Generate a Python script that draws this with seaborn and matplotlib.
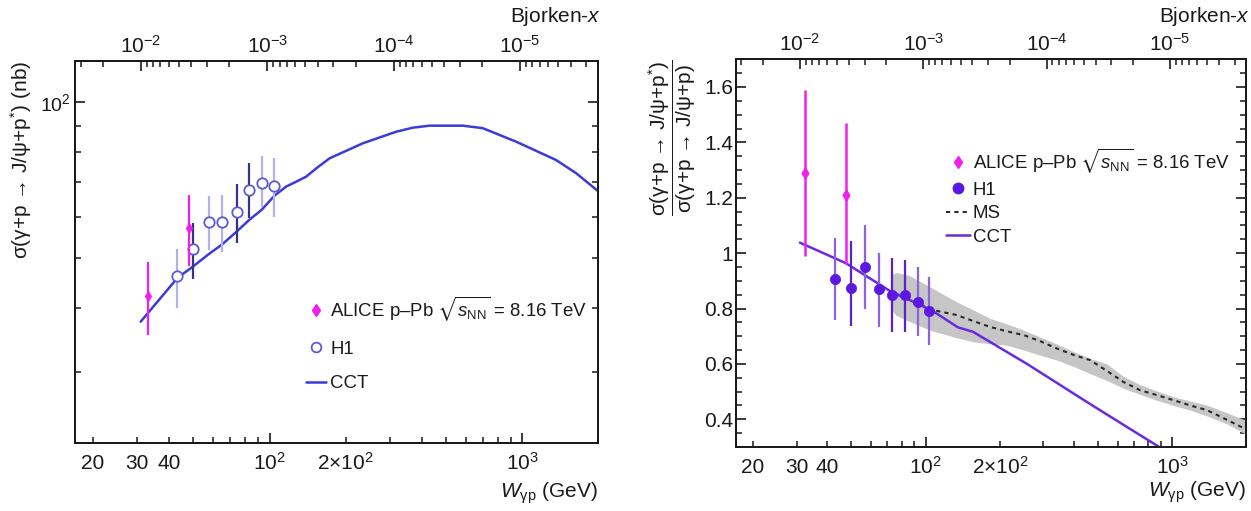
import numpy as np
import pandas as pd
import matplotlib
matplotlib.use("Agg")
import matplotlib.pyplot as plt
import seaborn as sns
from matplotlib.ticker import (FixedLocator, FuncFormatter, NullFormatter,
                               MultipleLocator, LogFormatterSciNotation)
from matplotlib.lines import Line2D

M2_JPSI = 9.6  # GeV^2, Bjorken-x = M^2 / W^2

# ---------------- left panel data ----------------
alice_w = [32.9, 47.9]
alice_xs = [42.2, 57.2]
alice_xs_lo = [35.4, 48.3]
alice_xs_hi = [49.0, 66.2]

h1_w = [43.2, 49.8, 57.4, 65.0, 74.1, 83.1, 93.0, 104.4]
h1_xs = [46.0, 52.1, 58.7, 58.7, 61.4, 67.7, 69.9, 69.0]
h1_xs_lo = [39.9, 45.5, 51.8, 51.2, 53.5, 59.6, 62.8, 60.1]
h1_xs_hi = [51.9, 58.5, 66.0, 66.2, 69.4, 76.4, 78.7, 77.9]
h1_group = ["a", "b", "a", "a", "b", "b", "a", "a"]

cct_w = [30.9, 43.2, 49.8, 57.4, 65.0, 74.1, 83.1, 93.0, 104.4, 116.4, 127.5,
         139.6, 153.0, 172.7, 233.8, 316.8, 368.6, 429.0, 580.7, 696.7, 944.0,
         1359.0, 1631.0, 1984.0]
cct_xs = [37.6, 45.7, 48.1, 50.8, 53.1, 56.2, 59.2, 61.9, 65.9, 68.7, 70.2,
          71.8, 74.5, 77.9, 83.3, 87.7, 89.3, 90.1, 90.1, 89.1, 83.9,
          77.3, 72.9, 67.4]

# ---------------- right panel data ----------------
r_alice_w = [32.6, 47.6]
r_alice = [1.29, 1.21]
r_alice_lo = [0.99, 0.96]
r_alice_hi = [1.59, 1.47]

r_h1_w = [43.1, 49.9, 57.0, 64.8, 73.4, 82.7, 93.0, 103.1]
r_h1 = [0.906, 0.874, 0.949, 0.869, 0.849, 0.848, 0.825, 0.792]
r_h1_lo = [0.758, 0.737, 0.799, 0.732, 0.716, 0.716, 0.700, 0.668]
r_h1_hi = [1.054, 1.045, 1.102, 1.002, 0.982, 0.975, 0.951, 0.915]
r_h1_group = ["a", "b", "a", "a", "b", "b", "a", "a"]

r_cct_w = [30.95, 47.6, 71.4, 103.8, 110.5, 135.3, 155.7, 256.7, 450.0, 654.5, 908.0]
r_cct = [1.038, 0.9635, 0.8644, 0.797, 0.783, 0.732, 0.716, 0.601, 0.463, 0.3725, 0.294]

ms_w = [72, 76, 85, 104, 133, 156, 182, 213, 250, 290, 340, 400, 464, 543,
        634, 741, 870, 1012, 1184, 1384, 1650, 2000]
ms_mid = [0.86, 0.85, 0.84, 0.797, 0.777, 0.755, 0.734, 0.718, 0.704, 0.683,
          0.656, 0.632, 0.614, 0.575, 0.535, 0.505, 0.487, 0.469, 0.450, 0.433,
          0.400, 0.363]
ms_hi = [0.92, 0.93, 0.921, 0.879, 0.825, 0.795, 0.765, 0.745, 0.722, 0.698,
         0.672, 0.644, 0.620, 0.600, 0.555, 0.525, 0.502, 0.481, 0.466, 0.451,
         0.425, 0.395]
ms_lo = [0.80, 0.775, 0.755, 0.722, 0.695, 0.680, 0.673, 0.668, 0.650, 0.632,
         0.614, 0.590, 0.565, 0.540, 0.512, 0.490, 0.468, 0.450, 0.433, 0.412,
         0.385, 0.345]

# ---------------- styling ----------------
sns.set_theme(style="ticks")
INK = "#1a1a1a"
plt.rcParams.update({
    "font.family": ["Liberation Sans", "DejaVu Sans"],
    "mathtext.fontset": "custom",
    "mathtext.rm": "Liberation Sans",
    "mathtext.it": "Liberation Sans:italic",
    "mathtext.bf": "Liberation Sans:bold",
    "mathtext.sf": "Liberation Sans",
    "mathtext.fallback": "stixsans",
    "axes.linewidth": 1.4,
    "axes.edgecolor": INK,
    "axes.labelcolor": INK,
    "text.color": INK,
    "xtick.color": INK,
    "ytick.color": INK,
})

MAGENTA = "#f01ff0"
BLUE = "#3b3bd9"
H1_EDGE = "#5a5ad2"
H1_BAR = {"a": "#b0b2e8", "b": "#34348c"}
PURPLE = "#6a2be0"
H1R = "#5b18e0"
H1R_BAR = {"a": "#8b62e2", "b": "#5a22c8"}

TICK_FS = 15
W_, H_ = 1251, 511
XLIM = (17.0, 1990.0)

fig = plt.figure(figsize=(W_ / 100, H_ / 100), dpi=100)
ax1 = fig.add_axes([75 / W_, 1 - 443 / H_, 523 / W_, 382 / H_])
ax2 = fig.add_axes([735.7 / W_, 1 - 447 / H_, 510.3 / W_, 387.7 / H_])


def setup_x(ax):
    ax.set_xscale("log")
    ax.set_xlim(*XLIM)
    top = ax.twiny()
    top.set_xscale("log")
    top.set_xlim(M2_JPSI / XLIM[0] ** 2, M2_JPSI / XLIM[1] ** 2)
    top.xaxis.set_major_locator(FixedLocator([1e-2, 1e-3, 1e-4, 1e-5]))
    top.xaxis.set_major_formatter(LogFormatterSciNotation())
    top.xaxis.set_minor_locator(FixedLocator(
        [m * 10.0 ** e for e in range(-7, -1) for m in range(2, 10)]))
    top.xaxis.set_minor_formatter(NullFormatter())
    top.tick_params(axis="x", which="both", direction="in", top=True, bottom=False,
                    labeltop=True, labelbottom=False, labelsize=TICK_FS, pad=3)
    top.tick_params(axis="x", which="major", length=7.5, width=1.2)
    top.tick_params(axis="x", which="minor", length=4, width=1.1)

    ax.xaxis.set_major_locator(FixedLocator([100, 1000]))
    ax.xaxis.set_major_formatter(FuncFormatter(
        lambda v, p: {100: "$10^{2}$", 1000: "$10^{3}$"}.get(int(round(v)), "")))
    minors = [m * 10 ** e for e in (1, 2, 3) for m in range(2, 10)
              if XLIM[0] <= m * 10 ** e <= XLIM[1]]
    ax.xaxis.set_minor_locator(FixedLocator(minors))
    ax.xaxis.set_minor_formatter(FuncFormatter(
        lambda v, p: {20: "20", 30: "30", 40: "40", 200: "2×$10^{2}$"}.get(int(round(v)), "")))
    ax.tick_params(axis="x", which="both", direction="in", bottom=True, top=False,
                   labelsize=TICK_FS, pad=19)
    ax.tick_params(axis="x", which="major", length=7.5, width=1.2)
    ax.tick_params(axis="x", which="minor", length=4, width=1.1)
    for lab in ax.xaxis.get_majorticklabels() + ax.xaxis.get_minorticklabels():
        lab.set_verticalalignment("baseline")
    return top


# ---------------- left panel ----------------
setup_x(ax1)
ax1.set_yscale("log")
ax1.set_ylim(21.9, 120.2)
ax1.yaxis.set_major_locator(FixedLocator([100]))
ax1.yaxis.set_major_formatter(FuncFormatter(lambda v, p: "$10^{2}$"))
ax1.yaxis.set_minor_locator(FixedLocator([30, 40, 50, 60, 70, 80, 90]))
ax1.yaxis.set_minor_formatter(NullFormatter())
ax1.tick_params(axis="y", which="both", direction="in", left=True, right=True,
                labelsize=14, pad=3)
ax1.tick_params(axis="y", which="major", length=7.5, width=1.2)
ax1.tick_params(axis="y", which="minor", length=4, width=1.1)

df_cct = pd.DataFrame({"W": cct_w, "xs": cct_xs})
sns.lineplot(data=df_cct, x="W", y="xs", ax=ax1, color=BLUE, lw=1.8,
             estimator=None, sort=False, legend=False, zorder=2)

ax1.vlines(h1_w, h1_xs_lo, h1_xs_hi, colors=[H1_BAR[g] for g in h1_group],
           lw=1.6, zorder=3)
df_h1 = pd.DataFrame({"W": h1_w, "xs": h1_xs})
sns.scatterplot(data=df_h1, x="W", y="xs", ax=ax1, marker="o", s=56,
                facecolor="white", edgecolor=H1_EDGE, linewidth=1.3, zorder=4,
                legend=False)

ax1.vlines(alice_w, alice_xs_lo, alice_xs_hi, colors=MAGENTA, lw=1.6, zorder=5)
df_al = pd.DataFrame({"W": alice_w, "xs": alice_xs})
sns.scatterplot(data=df_al, x="W", y="xs", ax=ax1, marker="d", s=30,
                color=MAGENTA, edgecolor=MAGENTA, linewidth=0.5, zorder=6,
                legend=False)

ax1.set_xlabel(r"$W_{\mathrm{γp}}$ (GeV)", fontsize=15, loc="right")
ax1.xaxis.set_label_coords(1.0, -0.097)
ax1.set_ylabel("σ(γ+p → J/ψ+p$^{*}$) (nb)", fontsize=15, loc="top")
ax1.yaxis.set_label_coords(-0.078, 1.0)

alice_label = r"ALICE p–Pb $\sqrt{s_{\mathrm{NN}}}$ = 8.16 TeV"
h_left = [
    Line2D([], [], ls="none", marker="d", ms=6, color=MAGENTA, mec=MAGENTA),
    Line2D([], [], ls="none", marker="o", ms=7, mfc="white", mec=H1_EDGE, mew=1.3),
    Line2D([], [], color=BLUE, lw=1.8),
]
ax1.legend(h_left, [alice_label, "H1", "CCT"], loc="upper left",
           bbox_to_anchor=(306 / W_, 1 - 294 / H_), bbox_transform=fig.transFigure,
           frameon=False, fontsize=13.4, borderpad=0, borderaxespad=0,
           handlelength=1.1, handletextpad=0.2, labelspacing=0.95)

# ---------------- right panel ----------------
setup_x(ax2)
ax2.set_ylim(0.3, 1.7)
ax2.yaxis.set_major_locator(FixedLocator([0.4, 0.6, 0.8, 1.0, 1.2, 1.4, 1.6]))
ax2.yaxis.set_major_formatter(FuncFormatter(lambda v, p: f"{v:g}"))
ax2.yaxis.set_minor_locator(MultipleLocator(0.05))
ax2.tick_params(axis="y", which="both", direction="in", left=True, right=True,
                labelsize=TICK_FS, pad=2)
ax2.tick_params(axis="y", which="major", length=7.5, width=1.2)
ax2.tick_params(axis="y", which="minor", length=4, width=1.1)

ax2.fill_between(ms_w, ms_lo, ms_hi, color="#c6c6c6", lw=0, zorder=1)
df_ms = pd.DataFrame({"W": ms_w, "r": ms_mid})
sns.lineplot(data=df_ms, x="W", y="r", ax=ax2, color="#2a2a2a", lw=1.5,
             linestyle=(0, (2, 2)), estimator=None, sort=False, legend=False, zorder=2)
df_rcct = pd.DataFrame({"W": r_cct_w, "r": r_cct})
sns.lineplot(data=df_rcct, x="W", y="r", ax=ax2, color=PURPLE, lw=1.8,
             estimator=None, sort=False, legend=False, zorder=3)

ax2.vlines(r_h1_w, r_h1_lo, r_h1_hi, colors=[H1R_BAR[g] for g in r_h1_group],
           lw=1.6, zorder=4)
df_rh1 = pd.DataFrame({"W": r_h1_w, "r": r_h1})
sns.scatterplot(data=df_rh1, x="W", y="r", ax=ax2, marker="o", s=55,
                color=H1R, edgecolor=H1R, linewidth=0.5, zorder=5, legend=False)

ax2.vlines(r_alice_w, r_alice_lo, r_alice_hi, colors=MAGENTA, lw=1.8, zorder=6)
df_ral = pd.DataFrame({"W": r_alice_w, "r": r_alice})
sns.scatterplot(data=df_ral, x="W", y="r", ax=ax2, marker="d", s=40,
                color=MAGENTA, edgecolor=MAGENTA, linewidth=0.5, zorder=7,
                legend=False)

ax2.set_xlabel(r"$W_{\mathrm{γp}}$ (GeV)", fontsize=15, loc="right")
ax2.xaxis.set_label_coords(1.0, -0.085)
ax2.set_ylabel(r"$\dfrac{\mathrm{σ(γ{+}p\ →\ J/ψ{+}p^{*})}}{\mathrm{σ(γ{+}p\ →\ J/ψ{+}p)}}$",
               fontsize=15, loc="top")
ax2.yaxis.set_label_coords(-0.074, 1.0)

h_right = [
    Line2D([], [], ls="none", marker="d", ms=6.5, color=MAGENTA, mec=MAGENTA),
    Line2D([], [], ls="none", marker="o", ms=7.5, color=H1R, mec=H1R),
    Line2D([], [], color="#2a2a2a", lw=1.5, ls=(0, (2, 2))),
    Line2D([], [], color=PURPLE, lw=1.8),
]
ax2.legend(h_right, [alice_label, "H1", "MS", "CCT"], loc="upper left",
           bbox_to_anchor=(946 / W_, 1 - 146 / H_), bbox_transform=fig.transFigure,
           frameon=False, fontsize=13.4, borderpad=0, borderaxespad=0,
           handlelength=1.3, handletextpad=0.15, labelspacing=0.35)

fig.text(601 / W_, 1 - 16 / H_, "Bjorken-$x$", ha="right", va="center", fontsize=15)
fig.text(1250 / W_, 1 - 16 / H_, "Bjorken-$x$", ha="right", va="center", fontsize=15)

fig.savefig("out.png", dpi=100)
